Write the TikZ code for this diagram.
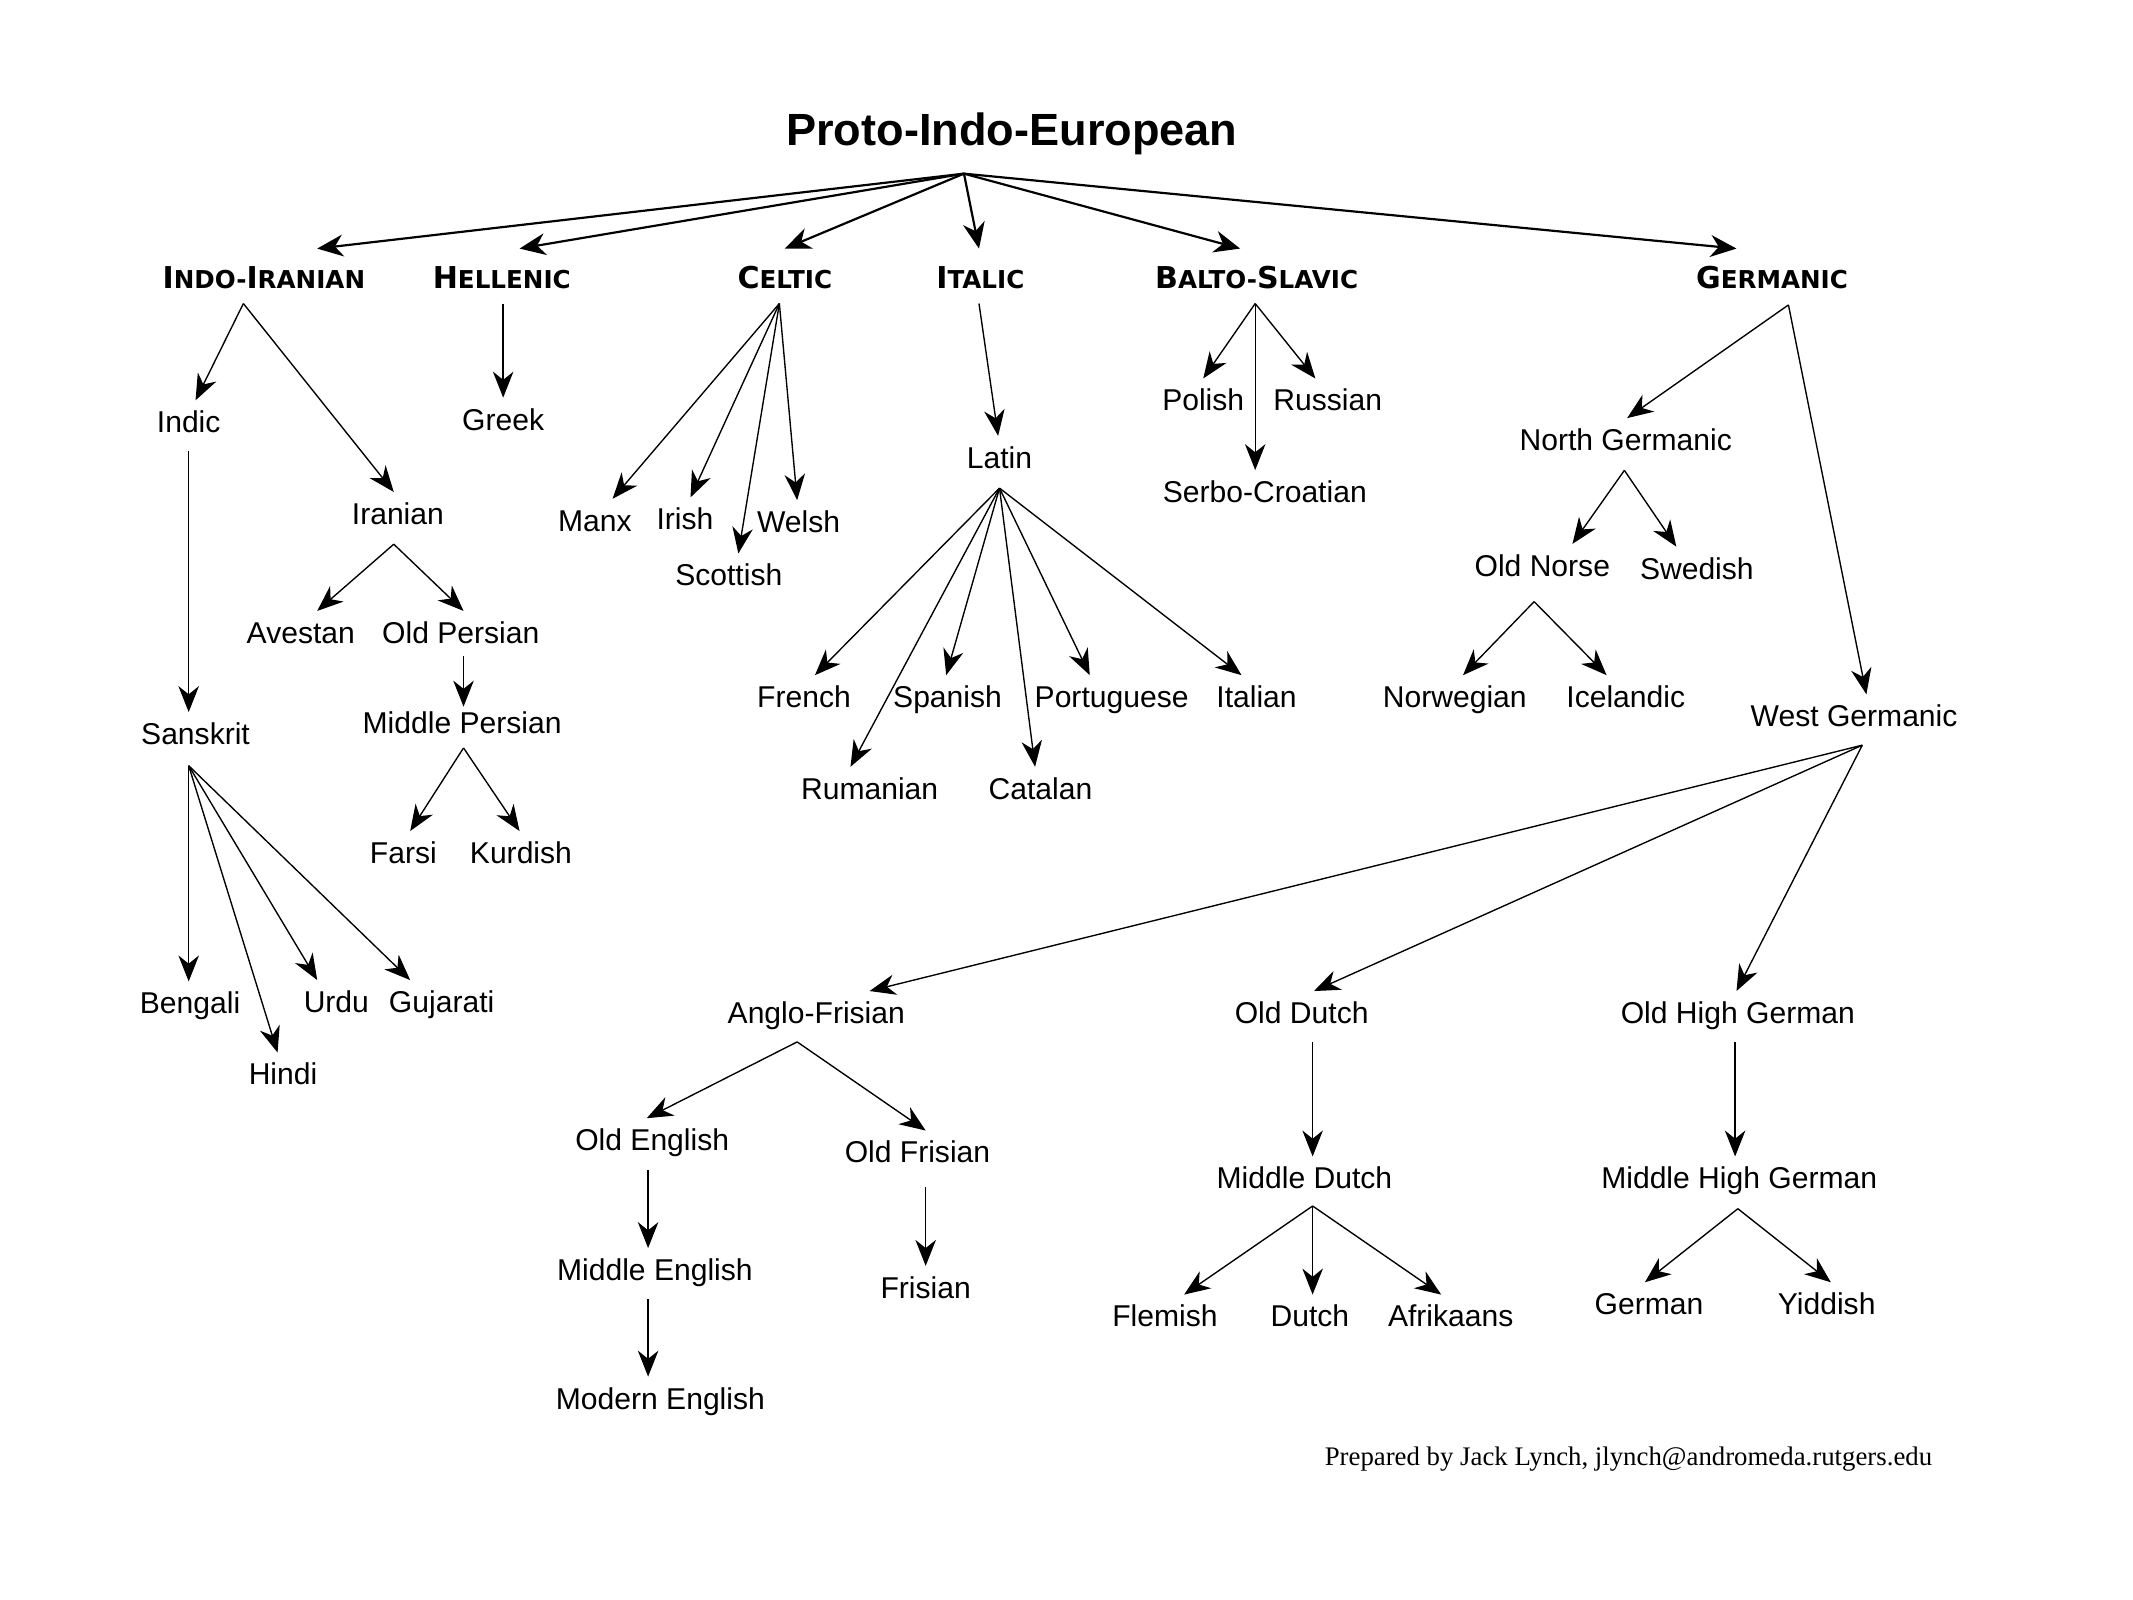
\documentclass[tikz,border=0pt]{standalone}
\usepackage{fontspec}
\setmainfont{Liberation Sans}
\newfontfamily\headfont{DejaVu Sans}
\newfontfamily\footfont{Liberation Serif}
\usetikzlibrary{arrows.meta}
\newcommand\hdpart[2]{{\fontsize{22}{22}\selectfont #1}{\fontsize{18}{18}\selectfont #2}}
\tikzset{
  lang/.style={font=\fontsize{22}{22}\selectfont, text height=16pt, text depth=5pt, inner xsep=2pt, inner ysep=7.5pt},
  branch/.style={font=\headfont\bfseries, text height=16pt, text depth=0pt, inner xsep=2pt, inner ysep=13pt},
  arr/.style={line width=1pt, -{Stealth[length=19pt,width=15pt,inset=6pt]}},
  toparr/.style={line width=1.6pt, -{Stealth[length=19pt,width=16pt,inset=6pt]}}
}
\begin{document}
\begin{tikzpicture}[x=1pt,y=-1pt]
\useasboundingbox[fill=white] (0,0) rectangle (1560,1170);
% title
\node[font=\bfseries\fontsize{33}{33}\selectfont] (pie) at (740,98) {Proto-Indo-European};
\coordinate (pie-s) at (705,127);
% branches
\node[branch] (indoiranian) at (193,203) {\hdpart{I}{NDO-}\hdpart{I}{RANIAN}};
\node[branch] (hellenic) at (367,203) {\hdpart{H}{ELLENIC}};
\node[branch] (celtic) at (574,203) {\hdpart{C}{ELTIC}};
\node[branch] (italic) at (717,203) {\hdpart{I}{TALIC}};
\node[branch] (baltoslavic) at (919,203) {\hdpart{B}{ALTO-}\hdpart{S}{LAVIC}};
\node[branch] (germanic) at (1296,203) {\hdpart{G}{ERMANIC}};
\draw[toparr] (pie-s) -- ([xshift=39pt]indoiranian.north);
\draw[toparr] (pie-s) -- ([xshift=13pt]hellenic.north);
\draw[toparr] (pie-s) -- (celtic.north);
\draw[toparr] (pie-s) -- ([xshift=-1pt]italic.north);
\draw[toparr] (pie-s) -- ([xshift=-12pt]baltoslavic.north);
\draw[toparr] (pie-s) -- ([xshift=-26pt]germanic.north);
% Indo-Iranian
\node[lang] (indic) at (138,311) {Indic};
\node[lang] (iranian) at (291,378) {Iranian};
\node[lang] (sanskrit) at (143,539) {Sanskrit};
\node[lang] (avestan) at (220,465) {Avestan};
\node[lang] (oldpersian) at (337,465) {Old Persian};
\node[lang] (middlepersian) at (338,531) {Middle Persian};
\node[lang] (farsi) at (295,626) {Farsi};
\node[lang] (kurdish) at (381,626) {Kurdish};
\node[lang] (bengali) at (139,736) {Bengali};
\node[lang] (hindi) at (207,788) {Hindi};
\node[lang] (urdu) at (246,735) {Urdu};
\node[lang] (gujarati) at (323,735) {Gujarati};
\coordinate (ii-s) at (178,222);
\coordinate (indic-s) at (138,330);
\coordinate (iranian-s) at (288,398);
\coordinate (oldpersian-s) at (339,480);
\coordinate (midpers-s) at (339,547);
\coordinate (sanskrit-s) at (138,560);
\draw[arr] (ii-s) -- ([xshift=5pt]indic.north);
\draw[arr] (ii-s) -- ([xshift=-3pt]iranian.north);
\draw[arr] (indic-s) -- ([xshift=-5pt]sanskrit.north);
\draw[arr] (iranian-s) -- ([xshift=12pt]avestan.north);
\draw[arr] (iranian-s) -- ([xshift=2pt]oldpersian.north);
\draw[arr] (oldpersian-s) -- ([xshift=1pt,yshift=-4pt]middlepersian.north);
\draw[arr] (midpers-s) -- ([xshift=5pt]farsi.north);
\draw[arr] (midpers-s) -- ([xshift=-1pt]kurdish.north);
\draw[arr] (sanskrit-s) -- ([xshift=-1pt]bengali.north);
\draw[arr] (sanskrit-s) -- ([xshift=-4pt]hindi.north);
\draw[arr] (sanskrit-s) -- ([xshift=-14pt]urdu.north);
\draw[arr] (sanskrit-s) -- ([xshift=-23pt]gujarati.north);
% Hellenic
\node[lang] (greek) at (368,309) {Greek};
\coordinate (hellenic-s) at (368,222);
\draw[arr] (hellenic-s) -- (greek.north);
% Celtic
\node[lang] (manx) at (435,383) {Manx};
\node[lang] (irish) at (501,382) {Irish};
\node[lang] (welsh) at (584,384) {Welsh};
\node[lang] (scottish) at (533,423) {Scottish};
\coordinate (celtic-s) at (570,222);
\draw[arr] (celtic-s) -- ([xshift=13pt]manx.north);
\draw[arr] (celtic-s) -- ([xshift=4pt]irish.north);
\draw[arr] (celtic-s) -- ([xshift=7pt]scottish.north);
\draw[arr] (celtic-s) -- ([xshift=-1pt]welsh.north);
% Italic
\node[lang] (latin) at (731,337) {Latin};
\node[lang] (french) at (588,512) {French};
\node[lang] (spanish) at (693,512) {Spanish};
\node[lang] (portuguese) at (813,512) {Portuguese};
\node[lang] (italian) at (919,512) {Italian};
\node[lang] (rumanian) at (636,579) {Rumanian};
\node[lang] (catalan) at (761,579) {Catalan};
\coordinate (italic-s) at (716,222);
\coordinate (latin-s) at (731,357);
\draw[arr] (italic-s) -- ([xshift=-1pt]latin.north);
\draw[arr] (latin-s) -- ([xshift=8pt]french.north);
\draw[arr] (latin-s) -- ([xshift=-1pt]spanish.north);
\draw[arr] (latin-s) -- ([xshift=-16pt]portuguese.north);
\draw[arr] (latin-s) -- ([xshift=-11pt]italian.north);
\draw[arr] (latin-s) -- ([xshift=-14pt]rumanian.north);
\draw[arr] (latin-s) -- ([xshift=-4pt]catalan.north);
% Balto-Slavic
\node[lang] (polish) at (880,295) {Polish};
\node[lang] (russian) at (971,295) {Russian};
\node[lang] (serbocroatian) at (925,362) {Serbo-Croatian};
\coordinate (bs-s) at (918,222);
\draw[arr] (bs-s) -- (polish.north);
\draw[arr] (bs-s) -- ([xshift=-9pt]russian.north);
\draw[arr] (bs-s) -- ([xshift=-7pt]serbocroatian.north);
% Germanic
\node[lang] (northgermanic) at (1189,324) {North Germanic};
\node[lang] (westgermanic) at (1356,526) {West Germanic};
\node[lang] (oldnorse) at (1128,416) {Old Norse};
\node[lang] (swedish) at (1241,418) {Swedish};
\node[lang] (norwegian) at (1064,512) {Norwegian};
\node[lang] (icelandic) at (1189,512) {Icelandic};
\coordinate (germanic-s) at (1308,223);
\coordinate (ng-s) at (1188,344);
\coordinate (oldnorse-s) at (1122,440);
\draw[arr] (germanic-s) -- ([xshift=1pt]northgermanic.north);
\draw[arr] (germanic-s) -- ([xshift=9pt]westgermanic.north);
\draw[arr] (ng-s) -- ([xshift=22pt]oldnorse.north);
\draw[arr] (ng-s) -- ([xshift=-15pt]swedish.north);
\draw[arr] (oldnorse-s) -- ([xshift=6pt]norwegian.north);
\draw[arr] (oldnorse-s) -- ([xshift=-14pt]icelandic.north);
% West Germanic
\node[lang] (anglofrisian) at (597,743) {Anglo-Frisian};
\node[lang] (olddutch) at (952,743) {Old Dutch};
\node[lang] (oldhighgerman) at (1271,743) {Old High German};
\node[lang] (oldenglish) at (477,836) {Old English};
\node[lang] (oldfrisian) at (671,845) {Old Frisian};
\node[lang] (middleenglish) at (479,931) {Middle English};
\node[lang] (modernenglish) at (483,1025) {Modern English};
\node[lang] (frisian) at (677,944) {Frisian};
\node[lang] (middledutch) at (954,864) {Middle Dutch};
\node[lang] (flemish) at (852,965) {Flemish};
\node[lang] (dutch) at (958,965) {Dutch};
\node[lang] (afrikaans) at (1061,965) {Afrikaans};
\node[lang] (mhg) at (1272,864) {Middle High German};
\node[lang] (german) at (1206,956) {German};
\node[lang] (yiddish) at (1336,956) {Yiddish};
\coordinate (wg-s) at (1362,545);
\coordinate (af-s) at (583,762);
\coordinate (oe-s) at (474,856);
\coordinate (me-s) at (474,950);
\coordinate (ofr-s) at (677,868);
\coordinate (od-s) at (960,762);
\coordinate (md-s) at (960,882);
\coordinate (ohg-s) at (1269,762);
\coordinate (mhg-s) at (1271,884);
\draw[arr] (wg-s) -- ([xshift=39pt]anglofrisian.north);
\draw[arr] (wg-s) -- ([xshift=9pt]olddutch.north);
\draw[arr] (wg-s) -- ([xshift=-1pt]oldhighgerman.north);
\draw[arr] (af-s) -- ([xshift=-4pt]oldenglish.north);
\draw[arr] (af-s) -- ([xshift=6pt]oldfrisian.north);
\draw[arr] (oe-s) -- ([xshift=-5pt]middleenglish.north);
\draw[arr] (me-s) -- ([xshift=-9pt]modernenglish.north);
\draw[arr] (ofr-s) -- (frisian.north);
\draw[arr] (od-s) -- ([xshift=6pt]middledutch.north);
\draw[arr] (md-s) -- ([xshift=14pt]flemish.north);
\draw[arr] (md-s) -- ([xshift=2pt]dutch.north);
\draw[arr] (md-s) -- ([xshift=-7pt]afrikaans.north);
\draw[arr] (ohg-s) -- ([xshift=-3pt]mhg.north);
\draw[arr] (mhg-s) -- ([xshift=-3pt]german.north);
\draw[arr] (mhg-s) -- ([xshift=3pt]yiddish.north);
% footer
\node[font=\footfont\fontsize{19.6}{19.6}\selectfont] (credit) at (1191,1067) {Prepared by Jack Lynch, jlynch@andromeda.rutgers.edu};
\end{tikzpicture}
\end{document}
